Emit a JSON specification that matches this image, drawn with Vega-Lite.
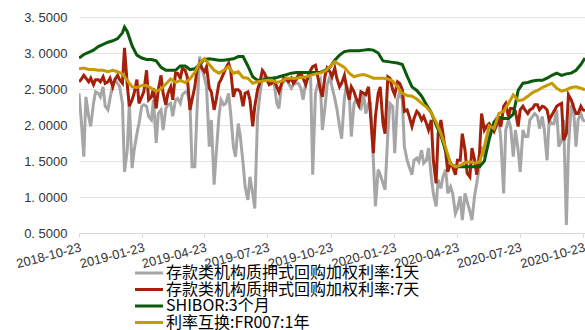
{
"$schema":"https://vega.github.io/schema/vega-lite/v6.json",
"width":506,"height":216,
"autosize":{"type":"none"},
"padding":{"left":79,"top":17,"right":0,"bottom":97},
"background":"white",
"config":{"view":{"stroke":null},"font":"Liberation Sans"},
"data":{"values":[
{"t":"2018-10-23","a":2.44,"b":2.60,"s":2.93,"f":2.78},{"t":"2018-10-26","a":2.10,"b":2.63},
{"t":"2018-10-30","a":1.56,"b":2.69,"s":2.98,"f":2.79},{"t":"2018-11-02","a":2.39,"b":2.65},
{"t":"2018-11-06","a":2.12,"b":2.60,"s":3.01,"f":2.77},{"t":"2018-11-09","a":1.98,"b":2.65},
{"t":"2018-11-13","a":2.30,"b":2.56,"s":3.04,"f":2.77},{"t":"2018-11-16","a":2.46,"b":2.63},
{"t":"2018-11-20","a":2.44,"b":2.63,"s":3.09,"f":2.76},{"t":"2018-11-23","a":2.39,"b":2.60},
{"t":"2018-11-27","a":2.53,"b":2.67,"s":3.12,"f":2.76},{"t":"2018-11-30","a":2.26,"b":2.58},
{"t":"2018-12-04","a":2.21,"b":2.60,"s":3.15,"f":2.74},{"t":"2018-12-07","a":2.37,"b":2.65},
{"t":"2018-12-11","a":2.56,"b":2.53,"s":3.17,"f":2.76},{"t":"2018-12-14","a":2.63,"b":2.63},
{"t":"2018-12-18","a":2.58,"b":2.69,"s":3.20,"f":2.74},{"t":"2018-12-21","a":2.53,"b":2.63},
{"t":"2018-12-25","a":2.30,"b":2.58,"s":3.28,"f":2.71},{"t":"2018-12-28","a":1.35,"b":3.07,"s":3.36},
{"t":"2019-01-01","a":1.65,"b":2.56,"s":3.30,"f":2.62},{"t":"2019-01-04","a":2.30,"b":2.26},
{"t":"2019-01-08","a":1.40,"b":2.35,"s":3.10,"f":2.53},{"t":"2019-01-11","a":1.65,"b":2.44},
{"t":"2019-01-15","a":1.88,"b":2.63,"s":2.97,"f":2.52},{"t":"2019-01-18","a":2.02,"b":2.30},
{"t":"2019-01-22","a":2.26,"b":2.39,"s":2.93,"f":2.55},{"t":"2019-01-25","a":2.28,"b":2.46},
{"t":"2019-01-29","a":2.26,"b":2.76,"s":2.91,"f":2.55},{"t":"2019-02-01","a":2.12,"b":2.35},
{"t":"2019-02-05","a":2.07,"b":2.39,"s":2.91,"f":2.51},{"t":"2019-02-08","a":2.35,"b":2.51},
{"t":"2019-02-12","a":1.75,"b":2.23,"s":2.89,"f":2.47},{"t":"2019-02-15","a":2.16,"b":2.49},
{"t":"2019-02-19","a":2.21,"b":2.69,"s":2.80,"f":2.50},{"t":"2019-02-22","a":1.93,"b":2.44},
{"t":"2019-02-26","a":2.23,"b":2.28,"s":2.76,"f":2.57},{"t":"2019-03-01","a":2.28,"b":2.44},
{"t":"2019-03-05","a":2.30,"b":2.53,"s":2.76,"f":2.64},{"t":"2019-03-08","a":2.12,"b":2.35},
{"t":"2019-03-12","a":2.35,"b":2.72,"s":2.76,"f":2.59},{"t":"2019-03-15","a":2.37,"b":2.72},
{"t":"2019-03-19","a":2.30,"b":2.65,"s":2.82,"f":2.62},{"t":"2019-03-22","a":2.42,"b":2.79},
{"t":"2019-03-26","a":2.46,"b":2.76,"s":2.82,"f":2.59},{"t":"2019-03-29","a":2.46,"b":2.67},
{"t":"2019-04-02","a":2.30,"b":2.21,"s":2.77,"f":2.64},{"t":"2019-04-05","a":1.42,"b":2.35},
{"t":"2019-04-09","a":1.42,"b":2.53,"s":2.78,"f":2.73},{"t":"2019-04-12","a":2.16,"b":2.76},
{"t":"2019-04-16","a":2.95,"b":2.86,"s":2.84,"f":2.86},{"t":"2019-04-19","a":2.81,"b":2.79},
{"t":"2019-04-23","a":2.65,"b":2.74,"s":2.91,"f":2.92},{"t":"2019-04-26","a":2.53,"b":2.81},
{"t":"2019-04-30","a":1.70,"b":2.51,"s":2.92,"f":2.84},{"t":"2019-05-03","a":2.07,"b":2.46},
{"t":"2019-05-07","a":1.17,"b":2.21,"s":2.91,"f":2.76},{"t":"2019-05-10","a":1.60,"b":2.35},
{"t":"2019-05-14","a":2.12,"b":2.58,"s":2.90,"f":2.72},{"t":"2019-05-17","a":2.35,"b":2.63},
{"t":"2019-05-21","a":2.28,"b":2.72,"s":2.90,"f":2.76},{"t":"2019-05-24","a":2.30,"b":2.79},
{"t":"2019-05-28","a":2.44,"b":2.86,"s":2.91,"f":2.81},{"t":"2019-05-31","a":2.16,"b":2.76},
{"t":"2019-06-04","a":1.70,"b":2.39,"s":2.92,"f":2.72},{"t":"2019-06-07","a":1.56,"b":2.49},
{"t":"2019-06-11","a":2.02,"b":2.49,"s":2.95,"f":2.74},{"t":"2019-06-14","a":1.84,"b":2.46},
{"t":"2019-06-18","a":1.47,"b":2.26,"s":2.95,"f":2.66},{"t":"2019-06-21","a":1.14,"b":2.44},
{"t":"2019-06-25","a":0.96,"b":2.46,"s":2.82,"f":2.65},{"t":"2019-06-28","a":1.28,"b":2.35},
{"t":"2019-07-02","a":1.05,"b":1.98,"s":2.67,"f":2.58},{"t":"2019-07-05","a":0.84,"b":2.26},
{"t":"2019-07-09","a":2.12,"b":2.49,"s":2.62,"f":2.60},{"t":"2019-07-12","a":2.39,"b":2.58},
{"t":"2019-07-16","a":2.67,"b":2.76,"s":2.62,"f":2.61},{"t":"2019-07-19","a":2.67,"b":2.72},
{"t":"2019-07-23","a":2.60,"b":2.63,"s":2.65,"f":2.62},{"t":"2019-07-26","a":2.56,"b":2.56},
{"t":"2019-07-30","a":2.58,"b":2.58,"s":2.65,"f":2.62},{"t":"2019-08-02","a":2.58,"b":2.63},
{"t":"2019-08-06","a":2.30,"b":2.53,"s":2.66,"f":2.59},{"t":"2019-08-09","a":2.23,"b":2.46},
{"t":"2019-08-13","a":2.58,"b":2.58,"s":2.68,"f":2.61},{"t":"2019-08-16","a":2.60,"b":2.65},
{"t":"2019-08-20","a":2.65,"b":2.63,"s":2.70,"f":2.65},{"t":"2019-08-23","a":2.58,"b":2.60},
{"t":"2019-08-27","a":2.51,"b":2.65,"s":2.72,"f":2.65},{"t":"2019-08-30","a":2.56,"b":2.58},
{"t":"2019-09-03","a":2.58,"b":2.63,"s":2.73,"f":2.65},{"t":"2019-09-06","a":2.58,"b":2.69},
{"t":"2019-09-10","a":2.51,"b":2.72,"s":2.73,"f":2.66},{"t":"2019-09-13","a":2.35,"b":2.65},
{"t":"2019-09-17","a":2.60,"b":2.56,"s":2.73,"f":2.67},{"t":"2019-09-20","a":2.65,"b":2.67},
{"t":"2019-09-24","a":2.65,"b":2.76,"s":2.73,"f":2.69},{"t":"2019-09-27","a":1.31,"b":2.81},
{"t":"2019-10-01","a":2.44,"b":2.83,"s":2.73,"f":2.71},{"t":"2019-10-04","a":2.56,"b":2.69},
{"t":"2019-10-08","a":2.63,"b":2.49,"s":2.73,"f":2.72},{"t":"2019-10-11","a":1.93,"b":2.39},
{"t":"2019-10-15","a":2.26,"b":2.69,"s":2.76,"f":2.75},{"t":"2019-10-18","a":2.56,"b":2.79},
{"t":"2019-10-22","a":2.67,"b":2.74,"s":2.80,"f":2.81},{"t":"2019-10-25","a":2.53,"b":2.67},
{"t":"2019-10-29","a":2.37,"b":2.79,"s":2.90,"f":2.88},{"t":"2019-11-01","a":2.23,"b":2.65},
{"t":"2019-11-05","a":1.98,"b":2.53,"s":2.97,"f":2.84},{"t":"2019-11-08","a":1.81,"b":2.58},
{"t":"2019-11-12","a":2.37,"b":2.69,"s":3.02,"f":2.80},{"t":"2019-11-15","a":2.56,"b":2.53},
{"t":"2019-11-19","a":2.44,"b":2.35,"s":3.03,"f":2.72},{"t":"2019-11-22","a":1.84,"b":2.53},
{"t":"2019-11-26","a":2.30,"b":2.46,"s":3.03,"f":2.67},{"t":"2019-11-29","a":2.35,"b":2.37},
{"t":"2019-12-03","a":2.26,"b":2.28,"s":3.03,"f":2.69},{"t":"2019-12-06","a":2.23,"b":2.46},
{"t":"2019-12-10","a":2.42,"b":2.44,"s":3.04,"f":2.70},{"t":"2019-12-13","a":2.16,"b":2.42},
{"t":"2019-12-17","a":2.30,"b":2.53,"s":3.05,"f":2.68},{"t":"2019-12-20","a":2.30,"b":2.12},
{"t":"2019-12-24","a":1.51,"b":1.61,"s":3.04,"f":2.65},{"t":"2019-12-27","a":0.87,"b":2.12},
{"t":"2019-12-31","a":1.38,"b":2.44,"s":3.00,"f":2.65},{"t":"2020-01-03","a":1.31,"b":2.53},
{"t":"2020-01-07","a":1.19,"b":2.02,"s":2.89,"f":2.65},{"t":"2020-01-10","a":1.10,"b":1.88},
{"t":"2020-01-14","a":1.88,"b":2.67,"s":2.88,"f":2.64},{"t":"2020-01-17","a":2.30,"b":2.65},
{"t":"2020-01-21","a":2.26,"b":2.49,"s":2.87,"f":2.61},{"t":"2020-01-24","a":1.61,"b":2.42},
{"t":"2020-01-28","a":2.35,"b":2.60,"s":2.86,"f":2.53},{"t":"2020-01-31","a":2.46,"b":2.58},
{"t":"2020-02-04","a":2.35,"b":2.49,"s":2.84,"f":2.44},{"t":"2020-02-07","a":1.70,"b":2.19},
{"t":"2020-02-11","a":1.51,"b":2.21,"s":2.68,"f":2.41},{"t":"2020-02-14","a":1.42,"b":2.12},
{"t":"2020-02-18","a":1.31,"b":1.98,"s":2.53,"f":2.40},{"t":"2020-02-21","a":1.51,"b":2.09},
{"t":"2020-02-25","a":1.54,"b":2.19,"s":2.48,"f":2.36},{"t":"2020-02-28","a":1.49,"b":2.16},
{"t":"2020-03-03","a":1.65,"b":2.07,"s":2.40,"f":2.30},{"t":"2020-03-06","a":1.47,"b":2.12},
{"t":"2020-03-10","a":1.51,"b":2.02,"s":2.28,"f":2.25},{"t":"2020-03-13","a":1.68,"b":1.93},
{"t":"2020-03-17","a":1.28,"b":2.07,"s":2.17,"f":2.17},{"t":"2020-03-20","a":1.05,"b":1.51},
{"t":"2020-03-24","a":0.87,"b":1.19,"s":2.00,"f":2.04},{"t":"2020-03-27","a":1.24,"b":1.88},
{"t":"2020-03-31","a":1.12,"b":2.07,"s":1.85,"f":1.88},{"t":"2020-04-03","a":1.28,"b":1.88},
{"t":"2020-04-07","a":1.38,"b":1.61,"s":1.64,"f":1.68},{"t":"2020-04-10","a":1.05,"b":1.35},
{"t":"2020-04-14","a":1.14,"b":1.47,"s":1.46,"f":1.46},{"t":"2020-04-17","a":1.05,"b":1.42},
{"t":"2020-04-21","a":0.77,"b":1.31,"s":1.42,"f":1.42},{"t":"2020-04-24","a":0.84,"b":1.51},
{"t":"2020-04-28","a":1.01,"b":1.51,"s":1.42,"f":1.44},{"t":"2020-05-01","a":0.68,"b":1.88},
{"t":"2020-05-05","a":1.05,"b":1.65,"s":1.42,"f":1.48},{"t":"2020-05-08","a":0.94,"b":1.33},
{"t":"2020-05-12","a":0.80,"b":1.28,"s":1.42,"f":1.49},{"t":"2020-05-15","a":0.68,"b":1.68},
{"t":"2020-05-19","a":1.03,"b":1.51,"s":1.42,"f":1.47},{"t":"2020-05-22","a":1.19,"b":1.31},
{"t":"2020-05-26","a":1.44,"b":1.61,"s":1.42,"f":1.49},{"t":"2020-05-29","a":1.70,"b":2.16},
{"t":"2020-06-02","a":1.56,"b":1.93,"s":1.50,"f":1.70},{"t":"2020-06-05","a":1.68,"b":1.98},
{"t":"2020-06-09","a":1.86,"b":2.02,"s":1.80,"f":1.99},{"t":"2020-06-12","a":1.93,"b":1.98},
{"t":"2020-06-16","a":2.02,"b":1.91,"s":2.04,"f":1.95},{"t":"2020-06-19","a":2.09,"b":1.98},
{"t":"2020-06-23","a":2.07,"b":2.07,"s":2.11,"f":2.16},{"t":"2020-06-26","a":1.79,"b":1.98},
{"t":"2020-06-30","a":1.05,"b":2.26,"s":2.09,"f":2.19},{"t":"2020-07-03","a":1.93,"b":2.30},
{"t":"2020-07-07","a":2.07,"b":2.12,"s":2.09,"f":2.30},{"t":"2020-07-10","a":1.98,"b":2.23},
{"t":"2020-07-14","a":1.56,"b":2.23,"s":2.15,"f":2.42},{"t":"2020-07-17","a":1.93,"b":2.19},
{"t":"2020-07-21","a":1.65,"b":1.98,"s":2.48,"f":2.34},{"t":"2020-07-24","a":1.35,"b":2.21},
{"t":"2020-07-28","a":1.93,"b":2.26,"s":2.58,"f":2.35},{"t":"2020-07-31","a":1.84,"b":2.21},
{"t":"2020-08-04","a":1.84,"b":2.16,"s":2.59,"f":2.40},{"t":"2020-08-07","a":2.07,"b":2.21},
{"t":"2020-08-11","a":2.12,"b":2.23,"s":2.61,"f":2.45},{"t":"2020-08-14","a":2.16,"b":2.28},
{"t":"2020-08-18","a":2.12,"b":2.28,"s":2.62,"f":2.48},{"t":"2020-08-21","a":1.95,"b":2.21},
{"t":"2020-08-25","a":2.12,"b":2.26,"s":2.62,"f":2.52},{"t":"2020-08-28","a":1.93,"b":2.25},
{"t":"2020-09-01","a":1.51,"b":2.21,"s":2.65,"f":2.55},{"t":"2020-09-04","a":2.07,"b":2.07},
{"t":"2020-09-08","a":2.02,"b":2.14,"s":2.69,"f":2.58},{"t":"2020-09-11","a":2.02,"b":2.19},
{"t":"2020-09-15","a":2.21,"b":2.26,"s":2.72,"f":2.51},{"t":"2020-09-18","a":1.70,"b":2.28},
{"t":"2020-09-22","a":1.79,"b":2.30,"s":2.69,"f":2.47},{"t":"2020-09-25","a":2.07,"b":1.79},
{"t":"2020-09-29","a":0.61,"b":1.88,"s":2.71,"f":2.49},{"t":"2020-10-02","a":1.70,"b":2.42},
{"t":"2020-10-06","a":2.26,"b":2.35,"s":2.72,"f":2.52},{"t":"2020-10-09","a":2.28,"b":2.26},
{"t":"2020-10-13","a":1.70,"b":2.16,"s":2.76,"f":2.53},{"t":"2020-10-16","a":2.07,"b":2.16},
{"t":"2020-10-20","a":2.16,"b":2.26,"s":2.84,"f":2.51},{"t":"2020-10-23","a":2.07,"b":2.21},
{"t":"2020-10-26","a":2.05,"b":2.20,"s":2.93,"f":2.49}
]},
"transform":[{"fold":["a","b","s","f"],"as":["k","v"]},{"filter":"isValid(datum.v)"}],
"encoding":{
 "x":{"field":"t","type":"temporal",
  "scale":{"type":"utc","domain":[{"year":2018,"month":10,"date":23,"utc":true},{"year":2020,"month":10,"date":26,"utc":true}]},
  "axis":{"title":null,"grid":false,"format":"%Y-%m-%d","labelAngle":-15,"labelAlign":"right","labelBaseline":"top","labelFontSize":13,"labelColor":"#333333","labelPadding":4,"labelOverlap":false,"tickColor":"#d9d9d9","tickSize":4,"domainColor":"#d9d9d9",
   "values":[{"year":2018,"month":10,"date":23,"utc":true},{"year":2019,"month":1,"date":23,"utc":true},{"year":2019,"month":4,"date":23,"utc":true},{"year":2019,"month":7,"date":23,"utc":true},{"year":2019,"month":10,"date":23,"utc":true},{"year":2020,"month":1,"date":23,"utc":true},{"year":2020,"month":4,"date":23,"utc":true},{"year":2020,"month":7,"date":23,"utc":true},{"year":2020,"month":10,"date":23,"utc":true}]}},
 "y":{"field":"v","type":"quantitative","scale":{"domain":[0.5,3.5],"nice":false,"zero":false},
  "axis":{"title":null,"values":[0.5,1,1.5,2,2.5,3,3.5],"labelExpr":"replace(format(datum.value,'.4f'),'.','. ')","domain":false,"ticks":false,"labelPadding":12,"labelFontSize":13,"labelColor":"#333333","gridColor":"#e2e2e2","gridWidth":1}},
 "color":{"field":"k","type":"nominal",
  "scale":{"domain":["a","b","s","f"],"range":["#a6a6a6","#a3200b","#0b5a0b","#c99a00"]},
  "legend":{"title":null,"orient":"none","legendX":62,"legendY":248,"direction":"vertical",
   "labelExpr":"{'a':'存款类机构质押式回购加权利率:1天','b':'存款类机构质押式回购加权利率:7天','s':'SHIBOR:3个月','f':'利率互换:FR007:1年'}[datum.label]",
   "labelFont":"Noto Sans CJK SC","labelFontSize":16,"labelColor":"#000000","labelOffset":9,"labelLimit":0,
   "symbolType":"M-2.15,0H2.15","symbolSize":169,"symbolStrokeWidth":3,"rowPadding":0.5}}
},
"layer":[
 {"transform":[{"filter":"datum.k==='a'"}],"mark":{"type":"line","strokeWidth":3,"clip":true}},
 {"transform":[{"filter":"datum.k==='b'"}],"mark":{"type":"line","strokeWidth":3,"clip":true}},
 {"transform":[{"filter":"datum.k==='s'"}],"mark":{"type":"line","strokeWidth":3,"clip":true}},
 {"transform":[{"filter":"datum.k==='f'"}],"mark":{"type":"line","strokeWidth":3,"clip":true}}
]
}
